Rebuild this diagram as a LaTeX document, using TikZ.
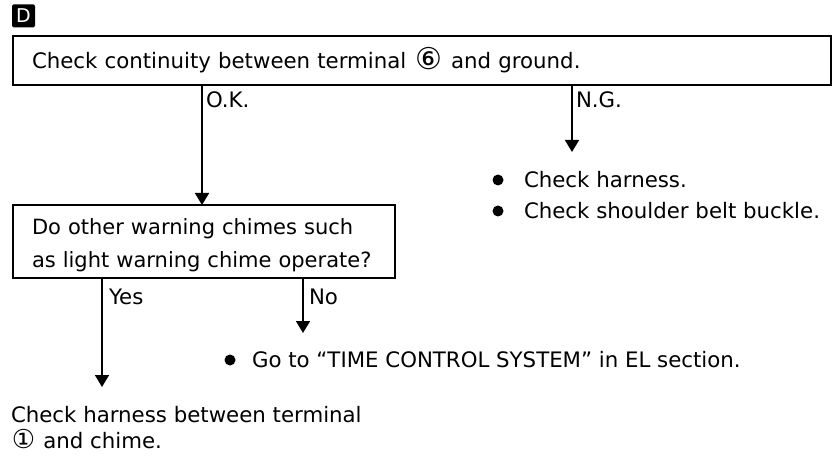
\documentclass[tikz,border=0pt]{standalone}
\usepackage{fontspec}
\setmainfont{DejaVu Sans}
\newfontfamily\symf{DejaVu Sans}
\usetikzlibrary{arrows.meta}
\newcommand\cnum[2]{{\symf\fontsize{#1}{#1}\selectfont #2}}
\begin{document}
\begin{tikzpicture}[x=1pt,y=-1pt,
  every node/.style={font=\fontsize{21.3}{32}\selectfont, inner sep=0pt, outer sep=0pt},
  box/.style={draw, line width=1.6pt, anchor=north west, align=left, inner xsep=19pt, inner ysep=0pt},
  conn/.style={line width=1.6pt, -{Triangle[width=14pt,length=12pt]}},
  lbl/.style={anchor=west},
  dot/.style={circle, fill=black, minimum size=11pt},
  tag/.style={fill=black, rounded corners=1.5pt, minimum size=23pt, text=white, font=\fontsize{19}{19}\selectfont}
]
\useasboundingbox (0,0) rectangle (835,462);
% tag D
\node[tag] (tagd) at (23.5,16) {D};
% box 1
\node[box, minimum width=818pt, minimum height=49pt, text width=780pt] (b1) at (13,36)
  {\mbox{Check continuity between terminal\hspace{9pt}\raisebox{-1pt}{\cnum{30}{⑥}}\hspace{9pt}and ground.}};
% box 2
\node[box, minimum width=382pt, minimum height=73pt, text width=344pt, font=\fontsize{21}{33}\selectfont] (b2) at (13,205)
  {\mbox{\rule{0pt}{24pt}Do other warning chimes such}\\\mbox{as light warning chime operate?}};
% coordinates
\coordinate (okx) at (202,0);
\coordinate (ngt) at (572,152);
\coordinate (yt) at (102,387);
\coordinate (nt) at (303,333);
% connectors
\draw[conn] (b1.south -| okx) -- (b2.north -| okx);
\draw[conn] (b1.south -| ngt) -- (ngt);
\draw[conn] (b2.south -| yt) -- (yt);
\draw[conn] (b2.south -| nt) -- (nt);
% labels
\node[lbl] (ok) at (206,100) {O.K.};
\node[lbl] (ng) at (576,100) {N.G.};
\node[lbl] (yes) at (109,297) {Yes};
\node[lbl] (no) at (309,297) {No};
% N.G. results
\node[dot] (d1) at (498,180) {};
\node[lbl] (h1) at (524,180) {Check harness.};
\node[dot] (d2) at (498,211) {};
\node[lbl] (h2) at (524,211) {Check shoulder belt buckle.};
% No result
\node[dot] (d3) at (230,360) {};
\node[lbl] (go) at (252,360) {Go to ``TIME CONTROL SYSTEM'' in EL section.};
% Yes result
\node[lbl, align=left, font=\fontsize{21.3}{26}\selectfont] (ch) at (11,428)
  {Check harness between terminal\\\hspace{1pt}\cnum{26}{①}\hspace{8pt}and chime.};
\end{tikzpicture}
\end{document}
